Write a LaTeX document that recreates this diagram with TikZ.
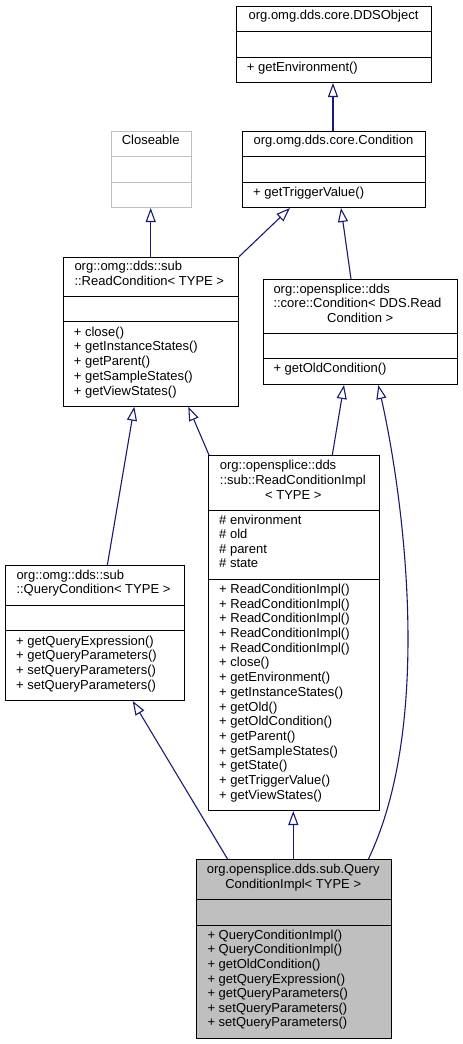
\documentclass[tikz,border=0pt]{standalone}
\usepackage{fontspec}
\setmainfont{Liberation Sans}
\usetikzlibrary{arrows.meta}
\definecolor{edgeblue}{RGB}{25,25,112}
\definecolor{boxgray}{RGB}{191,191,191}
\newcounter{tl}
\newcommand\txl[3]{\stepcounter{tl}\edef\tlname{tl\arabic{tl}}\node[lbl,anchor=mid west] (\tlname) at (#1,#2) {#3};}
\newcommand\txc[3]{\stepcounter{tl}\edef\tlname{tl\arabic{tl}}\node[lbl,anchor=mid] (\tlname) at (#1,#2) {#3};}
\newcommand\hsep[3][black]{\draw[draw=#1,line width=1pt] (#2.west |- 0,#3) -- (#2.east |- 0,#3);}
\tikzset{
  cls/.style={draw=black, line width=1pt, rectangle, inner sep=0pt, anchor=north west},
  lbl/.style={inner sep=0pt, font=\fontsize{13}{15}\selectfont},
  inh/.style={draw=edgeblue, line width=1.1pt, -{Triangle[length=14pt, width=10pt, fill=white]}}
}
\begin{document}
\begin{tikzpicture}[x=1pt,y=-1pt]
\useasboundingbox (0,0) rectangle (463,1044);
% boxes
\node[cls, minimum width=195pt, minimum height=76pt] (dds) at (236,6) {};
\node[cls, draw=boxgray, minimum width=80pt, minimum height=76pt] (clo) at (110.7,131) {};
\node[cls, minimum width=183pt, minimum height=76pt] (cond) at (242,131) {};
\node[cls, minimum width=174.7pt, minimum height=149pt] (rc) at (63.3,256.7) {};
\node[cls, minimum width=194.3pt, minimum height=105pt] (cc) at (263,279) {};
\node[cls, minimum width=170.7pt, minimum height=355pt] (rci) at (208,455) {};
\node[cls, minimum width=179pt, minimum height=134.7pt] (qc) at (5,565.3) {};
\node[cls, fill=boxgray, minimum width=195pt, minimum height=178.7pt] (qci) at (195.7,859.3) {};
% dividers
\hsep{dds}{31.7}\hsep{dds}{57}
\hsep[boxgray]{clo}{156.3}\hsep[boxgray]{clo}{182}
\hsep{cond}{156.3}\hsep{cond}{182}
\hsep{rc}{296.7}\hsep{rc}{321.7}
\hsep{cc}{333}\hsep{cc}{358.3}
\hsep{rci}{510}\hsep{rci}{579.3}
\hsep{qc}{605.3}\hsep{qc}{630.7}
\hsep{qci}{899}\hsep{qci}{925}
% texts
\txc{333.5}{17}{org.omg.dds.core.DDSObject}
\txl{246.7}{69}{+ getEnvironment()}
\txc{150.7}{142.3}{Closeable}
\txc{333.5}{142.3}{org.omg.dds.core.Condition}
\txl{253}{193.7}{+ getTriggerValue()}
\txl{74.3}{268.3}{org::omg::dds::sub}
\txl{74.3}{282.7}{::ReadCondition< TYPE >}
\foreach \t [count=\i from 0] in {+ close(), + getInstanceStates(), + getParent(), + getSampleStates(), + getViewStates()}
  {\txl{73.7}{333.5+14.75*\i}{\t}}
\txl{273.3}{290.7}{org::opensplice::dds}
\txl{273.3}{305.2}{::core::Condition< DDS.Read}
\txc{360.2}{319.7}{Condition >}
\txl{273.3}{370.3}{+ getOldCondition()}
\txl{219.7}{467}{org::opensplice::dds}
\txl{219.7}{481.7}{::sub::ReadConditionImpl}
\txc{293.3}{496.4}{< TYPE >}
\foreach \t [count=\i from 0] in {\# environment, \# old, \# parent, \# state}
  {\txl{219}{521.5+14.6*\i}{\t}}
\foreach \t [count=\i from 0] in {+ ReadConditionImpl(), + ReadConditionImpl(), + ReadConditionImpl(), + ReadConditionImpl(), + ReadConditionImpl(), + close(), + getEnvironment(), + getInstanceStates(), + getOld(), + getOldCondition(), + getParent(), + getSampleStates(), + getState(), + getTriggerValue(), + getViewStates()}
  {\txl{219}{590.7+14.71*\i}{\t}}
\txl{16.3}{576.7}{org::omg::dds::sub}
\txl{16.3}{591}{::QueryCondition< TYPE >}
\foreach \t [count=\i from 0] in {+ getQueryExpression(), + getQueryParameters(), + setQueryParameters(), + setQueryParameters()}
  {\txl{16}{642.5+14.7*\i}{\t}}
\txc{293.2}{870.7}{org.opensplice.dds.sub.Query}
\txc{293.2}{885.7}{ConditionImpl< TYPE >}
\foreach \t [count=\i from 0] in {+ QueryConditionImpl(), + QueryConditionImpl(), + getOldCondition(), + getQueryExpression(), + getQueryParameters(), + setQueryParameters(), + setQueryParameters()}
  {\txl{207.3}{936.7+14.6*\i}{\t}}
% edges
\draw[inh] ([xshift=91pt]cond.north west) -- ([xshift=97pt]dds.south west);
\draw[inh] ([xshift=87.4pt]rc.north west) -- ([xshift=40pt]clo.south west);
\draw[inh] (rc.north east) -- ([xshift=48pt]cond.south west);
\draw[inh] ([xshift=88pt]cc.north west) -- ([xshift=99pt]cond.south west);
\draw[inh] ([xshift=1pt]rci.north west) -- ([xshift=125pt]rc.south west);
\draw[inh] ([xshift=124.3pt]rci.north west) -- ([xshift=81pt]cc.south west);
\draw[inh] ([xshift=102.3pt]qc.north west) -- ([xshift=71pt]rc.south west);
\draw[inh] ([xshift=32pt]qci.north west) -- ([xshift=127.7pt]qc.south west);
\draw[inh] ([xshift=97.6pt]qci.north west) -- ([xshift=85.3pt]rci.south west);
\draw[inh] ([xshift=172.6pt]qci.north west) .. controls (435,720) and (402,490) .. ([xshift=115.3pt]cc.south west);
\end{tikzpicture}
\end{document}
